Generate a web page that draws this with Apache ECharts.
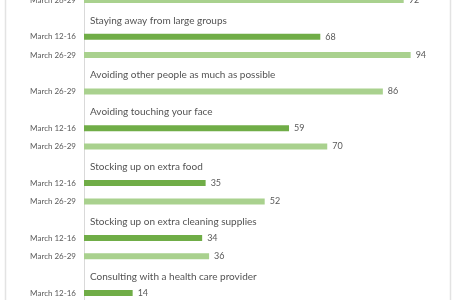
<!DOCTYPE html>
<html lang="en">
<head>
    <meta charset="utf-8">
    <title>Protective behaviors</title>
    <script src="https://cdn.jsdelivr.net/npm/echarts@6.0.0/dist/echarts.min.js"></script>
    <style>
        html, body { margin: 0; padding: 0; background: #fff; overflow: hidden; }
        #main { width: 462px; height: 300px; }
    </style>
</head>
<body>
    <div id="main"></div>
    <script>
        // one entry per row, top to bottom (title rows have no bar)
        var rowLabels = ['March 26-29', '', 'March 12-16', 'March 26-29', '', 'March 26-29', '',
            'March 12-16', 'March 26-29', '', 'March 12-16', 'March 26-29', '',
            'March 12-16', 'March 26-29', '', 'March 12-16'];
        var march12 = ['-', '-', 68, '-', '-', '-', '-', 59, '-', '-', 35, '-', '-', 34, '-', '-', 14];
        var march26 = [92, '-', '-', 94, '-', 86, '-', '-', 70, '-', '-', 52, '-', '-', 36, '-', '-'];
        var titles = [null, 'Staying away from large groups', null, null,
            'Avoiding other people as much as possible', null, 'Avoiding touching your face', null, null,
            'Stocking up on extra food', null, null, 'Stocking up on extra cleaning supplies', null, null,
            'Consulting with a health care provider', null];

        var rowIds = rowLabels.map(function (l, i) { return 'r' + i; });
        var titlePoints = [];
        titles.forEach(function (t, i) {
            if (t) titlePoints.push({ value: [0, i], name: t });
        });

        var myChart = echarts.init(document.getElementById('main'));
        var valueLabel = {
            show: true,
            position: 'right',
            distance: 5,
            color: '#595959',
            fontFamily: 'Lato',
            fontSize: 9
        };
        var option = {
            backgroundColor: '#fff',
            animation: false,
            graphic: [{
                type: 'rect',
                shape: { x: 5.5, y: -20, width: 445, height: 340 },
                style: { fill: 'none', stroke: '#e3e3e3', lineWidth: 1.5 },
                silent: true
            }],
            // grid runs past the top and bottom edge, the picture is a crop
            grid: { left: 84, right: 30.5, top: -9.15, height: 311.3, outerBoundsMode: 'none', containLabel: false },
            xAxis: {
                type: 'value',
                min: 0,
                max: 100,
                show: false
            },
            yAxis: {
                type: 'category',
                inverse: true,
                data: rowIds,
                axisLine: { lineStyle: { color: '#d9d9d9', width: 1 } },
                axisTick: { show: false },
                axisLabel: {
                    margin: 8,
                    color: '#595959',
                    fontFamily: 'Lato',
                    fontSize: 8,
                    formatter: function (v, i) { return rowLabels[i]; }
                }
            },
            series: [
                {
                    name: 'March 12-16',
                    type: 'bar',
                    barWidth: 6,
                    barGap: '-100%',
                    itemStyle: { color: '#70AD47' },
                    label: valueLabel,
                    data: march12
                },
                {
                    name: 'March 26-29',
                    type: 'bar',
                    barWidth: 6,
                    itemStyle: { color: '#A9D18E' },
                    label: valueLabel,
                    data: march26
                },
                {
                    name: 'titles',
                    type: 'scatter',
                    symbolSize: 0,
                    label: {
                        show: true,
                        position: 'right',
                        distance: 6,
                        offset: [0, 2],
                        color: '#262626',
                        fontFamily: 'Lato',
                        fontSize: 10,
                        formatter: function (p) { return p.name; }
                    },
                    data: titlePoints
                }
            ]
        };
        myChart.setOption(option);
    </script>
</body>
</html>
